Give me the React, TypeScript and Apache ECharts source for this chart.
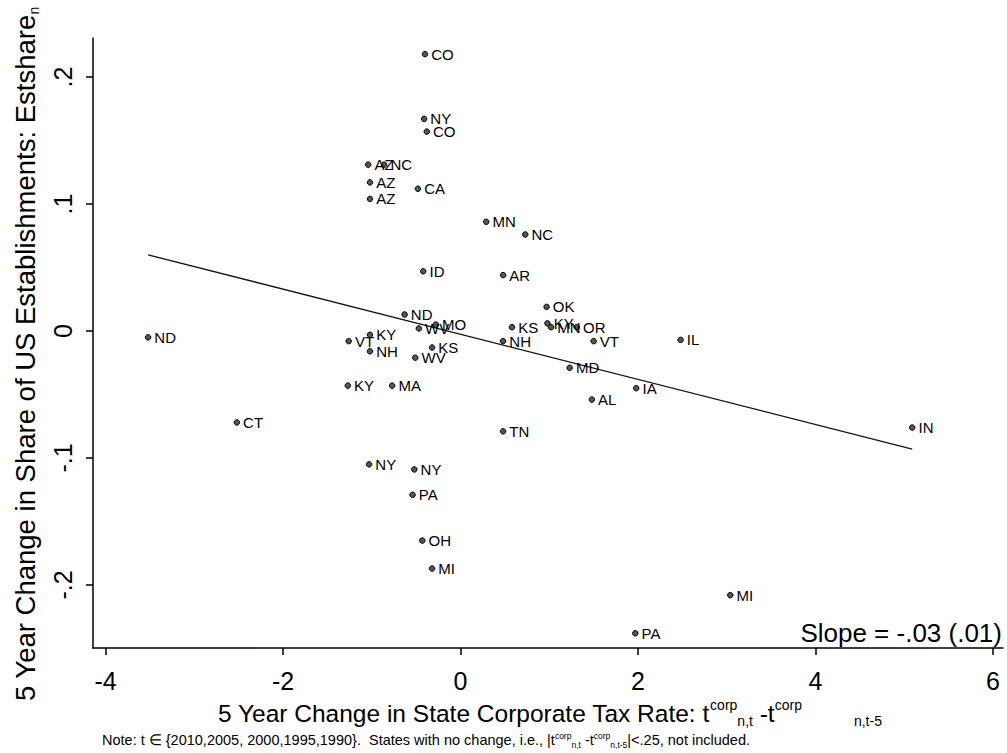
import React, { useEffect, useRef } from "react";
import * as echarts from "echarts";

// ---- Data ----
const states = [
  "CO", "NY", "CO", "AZ", "NC", "AZ", "AZ", "CA", "MN", "NC",
  "ID", "AR", "OK", "ND", "MO", "WV", "KY", "VT", "NH", "KS",
  "WV", "KS", "KY", "MN", "OR", "NH", "VT", "MD", "IL", "IA",
  "AL", "ND", "KY", "MA", "CT", "TN", "NY", "NY", "PA", "OH",
  "MI", "MI", "PA", "IN",
];
const taxChange = [
  -0.40, -0.41, -0.38, -1.04, -0.86, -1.02, -1.02, -0.48, 0.29, 0.73,
  -0.42, 0.48, 0.97, -0.63, -0.28, -0.47, -1.02, -1.26, -1.02, -0.32,
  -0.51, 0.58, 0.98, 1.02, 1.31, 0.48, 1.50, 1.23, 2.48, 1.98,
  1.48, -3.52, -1.27, -0.77, -2.52, 0.48, -1.03, -0.52, -0.54, -0.43,
  -0.32, 3.04, 1.97, 5.09,
];
const estShareChange = [
  0.218, 0.167, 0.157, 0.131, 0.131, 0.117, 0.104, 0.112, 0.086, 0.076,
  0.047, 0.044, 0.019, 0.013, 0.005, 0.002, -0.003, -0.008, -0.016, -0.013,
  -0.021, 0.003, 0.006, 0.003, 0.003, -0.008, -0.008, -0.029, -0.007, -0.045,
  -0.054, -0.005, -0.043, -0.043, -0.072, -0.079, -0.105, -0.109, -0.129, -0.165,
  -0.187, -0.208, -0.238, -0.076,
];
const fitX = [-3.52, 5.09];
const fitY = [0.060, -0.093];
const xTicks = [-4, -2, 0, 2, 4, 6];
const yTicks = [-0.2, -0.1, 0, 0.1, 0.2];
const slopeText = "Slope = -.03 (.01)";

const FONT = "'Liberation Sans', Arial, Helvetica, sans-serif";

function fmtY(v: number): string {
  if (Math.abs(v) < 1e-9) return "0";
  const s = String(Math.round(Math.abs(v) * 1000) / 1000).replace(/^0/, "");
  return v < 0 ? "-" + s : s;
}

export default function App() {
  const ref = useRef<HTMLDivElement>(null);
  useEffect(() => {
    if (!ref.current) return;
    const chart = echarts.init(ref.current, null, { renderer: "svg" });
    const points = states.map((s, i) => ({ name: s, value: [taxChange[i], estShareChange[i]] }));
    const option: any = {
      animation: false,
      backgroundColor: "#fff",
      textStyle: { fontFamily: FONT, color: "#000" },
      grid: { left: 93, top: 38, width: 910, height: 610, containLabel: false },
      xAxis: {
        type: "value",
        min: -4.141,
        max: 6.113,
        axisLine: { show: true, onZero: false, lineStyle: { color: "#000", width: 1.5 } },
        axisTick: { show: true, customValues: xTicks, length: 7, lineStyle: { color: "#000", width: 1.5 } },
        axisLabel: { customValues: xTicks, fontSize: 25, color: "#000", margin: 20, fontFamily: FONT },
        splitLine: { show: false },
      },
      yAxis: {
        type: "value",
        min: -0.2496,
        max: 0.2307,
        axisLine: { show: true, onZero: false, lineStyle: { color: "#000", width: 1.5 } },
        axisTick: { show: true, customValues: yTicks, length: 7, lineStyle: { color: "#000", width: 1.5 } },
        axisLabel: {
          customValues: yTicks,
          rotate: 90,
          fontSize: 25,
          color: "#000",
          margin: 18,
          fontFamily: FONT,
          formatter: (v: number) => fmtY(v),
        },
        splitLine: { show: false },
      },
      series: [
        {
          type: "line",
          data: fitX.map((x, i) => [x, fitY[i]]),
          symbol: "none",
          lineStyle: { color: "#111", width: 1.3 },
          silent: true,
          z: 1,
        },
        {
          type: "scatter",
          data: points,
          symbol: "circle",
          symbolSize: 5.5,
          itemStyle: { color: "#555", borderColor: "#000", borderWidth: 1, opacity: 1 },
          label: {
            show: true,
            formatter: "{b}",
            position: "right",
            distance: 3,
            fontSize: 15,
            color: "#000",
            fontFamily: FONT,
          },
          labelLayout: { hideOverlap: false },
          z: 2,
        },
      ],
      graphic: [
        {
          type: "text",
          x: 218,
          y: 713,
          style: {
            text: "{m|5 Year Change in State Corporate Tax Rate: t}{sp|corp}{sb|n,t}{m| -t}{sp|corp}{g|}{sb|n,t-5}",
            textAlign: "left",
            align: "left",
            textVerticalAlign: "middle",
            verticalAlign: "middle",
            fill: "#000",
            rich: {
              m: { fontSize: 24.5, lineHeight: 30, fontFamily: FONT, fill: "#000", verticalAlign: "middle" },
              sp: { fontSize: 14, lineHeight: 14, fontFamily: FONT, fill: "#000", verticalAlign: "top" },
              sb: { fontSize: 14, lineHeight: 14, fontFamily: FONT, fill: "#000", verticalAlign: "bottom" },
              g: { width: 52 },
            },
          },
        },
        {
          type: "text",
          x: 25,
          y: 354,
          rotation: Math.PI / 2,
          style: {
            text: "{m|5 Year Change in Share of US Establishments: Estshare}{sb|n}",
            textAlign: "center",
            align: "center",
            textVerticalAlign: "middle",
            verticalAlign: "middle",
            fill: "#000",
            rich: {
              m: { fontSize: 27.5, lineHeight: 32, fontFamily: FONT, fill: "#000", verticalAlign: "middle" },
              sb: { fontSize: 14, lineHeight: 14, fontFamily: FONT, fill: "#000", verticalAlign: "bottom" },
            },
          },
        },
        {
          type: "text",
          x: 1002,
          y: 633,
          style: {
            text: slopeText,
            textAlign: "right",
            align: "right",
            textVerticalAlign: "middle",
            verticalAlign: "middle",
            fontSize: 26,
            fontFamily: FONT,
            fill: "#000",
          },
        },
        {
          type: "text",
          x: 102,
          y: 740,
          style: {
            text: "Note: t ∈ {2010,2005, 2000,1995,1990}.  States with no change, i.e., |t{sp|corp}{sb|n,t} -t{sp|corp}{sb|n,t-5}|<.25, not included.",
            textAlign: "left",
            align: "left",
            textVerticalAlign: "middle",
            verticalAlign: "middle",
            fontSize: 14.5,
            lineHeight: 18,
            fontFamily: FONT,
            fill: "#000",
            rich: {
              sp: { fontSize: 8.5, lineHeight: 8.5, fontFamily: FONT, fill: "#000", verticalAlign: "top" },
              sb: { fontSize: 8.5, lineHeight: 8.5, fontFamily: FONT, fill: "#000", verticalAlign: "bottom" },
            },
          },
        },
      ],
    };
    chart.setOption(option);
    return () => chart.dispose();
  }, []);
  return (
    <div
      ref={ref}
      style={{ position: "absolute", left: 0, top: 0, width: 1007, height: 753, background: "#fff" }}
    />
  );
}
